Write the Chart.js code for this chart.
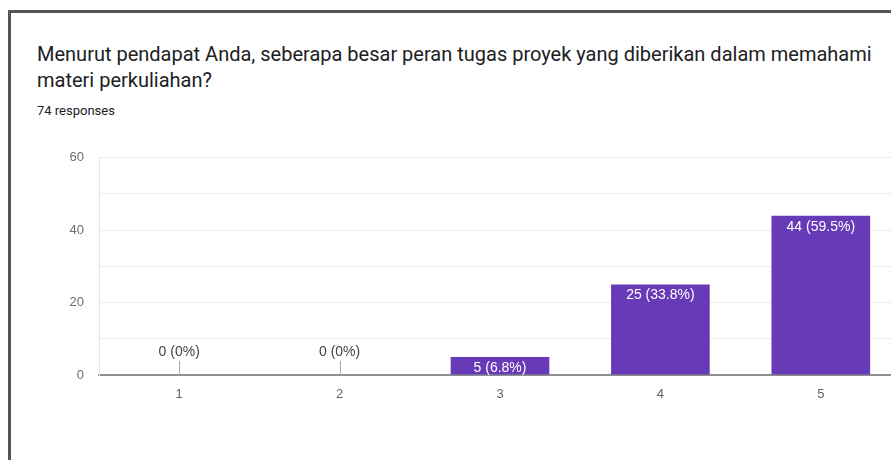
<!DOCTYPE html>
<html>
<head>
<meta charset="utf-8">
<script src="https://cdn.jsdelivr.net/npm/chart.js@4"></script>
<style>
  html, body { margin:0; padding:0; background:#fff; width:891px; height:460px; overflow:hidden; }
  .frame { position:absolute; left:8px; top:10px; width:900px; height:460px; border-left:3px solid #555; border-top:3px solid #555; box-sizing:border-box; }
  .title { position:absolute; left:37px; top:41px; font-family:Roboto, sans-serif; font-size:20px; line-height:26px; color:#202124; white-space:nowrap; }
  .sub { position:absolute; left:37px; top:103px; font-family:Roboto, sans-serif; font-size:13px; line-height:16px; color:#202124; }
  .wrap { position:absolute; left:0; top:135px; width:901px; height:275px; }
</style>
</head>
<body>
<div class="frame"></div>
<div class="title">Menurut pendapat Anda, seberapa besar peran tugas proyek yang diberikan dalam memahami<br>materi perkuliahan?</div>
<div class="sub">74 responses</div>
<div class="wrap"><canvas id="chart"></canvas></div>
<script>
  // data
  const categories = ['1', '2', '3', '4', '5'];
  const counts = [0, 0, 5, 25, 44];
  const yTicksShown = [0, 20, 40, 60];

  const total = counts.reduce((a,b)=>a+b,0);
  function pctLabel(v){ return v + ' (' + Number((v/total*100).toFixed(1)) + '%)'; }

  // bar labels, Google Forms style: inside the bar, or above a small stub when zero
  const barLabels = {
    id: 'barLabels',
    afterDatasetsDraw(chart){
      const ctx = chart.ctx;
      const meta = chart.getDatasetMeta(0);
      ctx.save();
      ctx.font = '14px "Liberation Sans", Arial, sans-serif';
      ctx.textAlign = 'center';
      ctx.textBaseline = 'middle';
      meta.data.forEach((bar, i)=>{
        const v = counts[i];
        if(v > 0){
          ctx.fillStyle = '#ffffff';
          ctx.fillText(pctLabel(v), bar.x, bar.y + 11);
        } else {
          ctx.strokeStyle = '#a8a8a8';
          ctx.lineWidth = 1;
          ctx.beginPath();
          ctx.moveTo(Math.round(bar.x) + 0.5, bar.base - 14);
          ctx.lineTo(Math.round(bar.x) + 0.5, bar.base);
          ctx.stroke();
          ctx.fillStyle = '#444444';
          ctx.fillText(pctLabel(v), bar.x, bar.base - 23);
        }
      });
      ctx.restore();
    }
  };

  new Chart(document.getElementById('chart'), {
    type: 'bar',
    data: { labels: categories, datasets: [{ data: counts, backgroundColor: '#673ab7', borderWidth: 0, barPercentage: 0.615, categoryPercentage: 1 }] },
    options: {
      responsive: true, maintainAspectRatio: false, animation: false,
      layout: { padding: { top: 12, left: 0, right: 0, bottom: 0 } },
      plugins: { legend: { display: false }, tooltip: { enabled: false } },
      scales: {
        x: {
          grid: { display: false, drawTicks: false },
          border: { display: true, color: '#8f8f8f', width: 2 },
          ticks: { color: '#5f6368', padding: 12, font: { family: '"Liberation Sans", Arial, sans-serif', size: 13 } },
          afterFit(s){ s.height = 35; }
        },
        y: {
          min: 0, max: 60,
          grid: { color: '#ececec', drawTicks: false },
          border: { display: true, color: '#e6e6e6', width: 1 },
          ticks: { stepSize: 10, color: '#6f6f6f', padding: 15, font: { family: '"Liberation Sans", Arial, sans-serif', size: 13 },
            callback: v => yTicksShown.includes(v) ? v : '' },
          afterFit(s){ s.width = 99; }
        }
      }
    },
    plugins: [barLabels]
  });
</script>
</body>
</html>
